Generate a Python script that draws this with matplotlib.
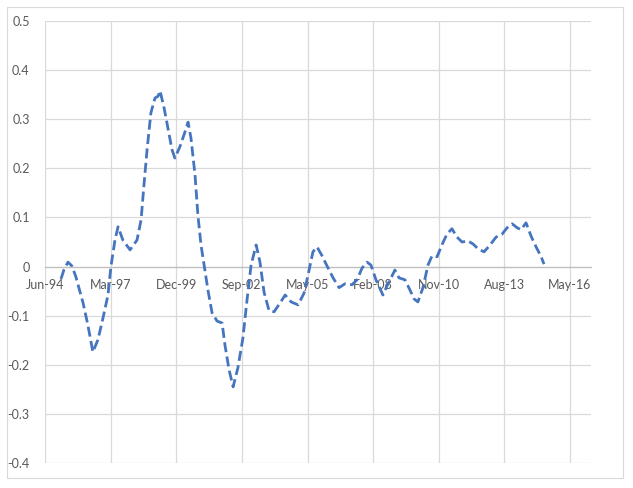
import pandas as pd
import numpy as np
import matplotlib
matplotlib.use("Agg")
import matplotlib.pyplot as plt
import matplotlib.dates as mdates
from matplotlib.patches import Rectangle

# values (decimal year, value)
years = [1995.12, 1995.24, 1995.41, 1995.58, 1995.74, 1996.04, 1996.24, 1996.45, 1996.66, 1996.87,
         1997.08, 1997.20, 1997.37, 1997.50, 1997.70, 1998.00, 1998.29, 1998.46, 1998.58, 1998.71,
         1998.87, 1999.04, 1999.17, 1999.25, 1999.42, 1999.58, 1999.75, 1999.87, 2000.08, 2000.29,
         2000.42, 2000.54, 2000.71, 2000.83, 2000.96, 2001.09, 2001.25, 2001.42, 2001.63, 2001.84,
         2001.96, 2002.13, 2002.30, 2002.50, 2002.71, 2002.88, 2003.05, 2003.26, 2003.42, 2003.59,
         2003.80, 2004.01, 2004.26, 2004.47, 2004.72, 2005.01, 2005.26, 2005.47, 2005.63, 2005.80,
         2006.01, 2006.22, 2006.47, 2006.72, 2006.97, 2007.26, 2007.47, 2007.68, 2007.89, 2008.05,
         2008.26, 2008.55, 2008.76, 2008.93, 2009.05, 2009.22, 2009.47, 2009.68, 2009.85, 2010.01,
         2010.22, 2010.43, 2010.60, 2010.81, 2011.01, 2011.22, 2011.43, 2011.64, 2011.85, 2012.10,
         2012.31, 2012.52, 2012.77, 2013.02, 2013.27, 2013.52, 2013.73, 2013.94, 2014.15, 2014.31,
         2014.52, 2014.73, 2014.94, 2015.15, 2015.27]
values = [-0.025, -0.007, 0.009, 0.001, -0.021, -0.074, -0.119, -0.174, -0.149, -0.105,
          -0.058, -0.001, 0.054, 0.081, 0.054, 0.034, 0.054, 0.095, 0.166, 0.238,
          0.313, 0.343, 0.347, 0.358, 0.323, 0.282, 0.238, 0.221, 0.244, 0.274,
          0.294, 0.262, 0.187, 0.105, 0.044, 0.003, -0.048, -0.094, -0.111, -0.115,
          -0.160, -0.210, -0.245, -0.206, -0.145, -0.068, 0.003, 0.044, 0.009, -0.052,
          -0.090, -0.092, -0.074, -0.058, -0.072, -0.078, -0.054, -0.007, 0.030, 0.040,
          0.022, 0.001, -0.023, -0.043, -0.035, -0.037, -0.027, -0.003, 0.009, 0.003,
          -0.027, -0.058, -0.035, -0.019, -0.007, -0.023, -0.027, -0.048, -0.066, -0.072,
          -0.043, 0.003, 0.022, 0.020, 0.044, 0.066, 0.077, 0.060, 0.050, 0.052,
          0.046, 0.036, 0.030, 0.044, 0.060, 0.066, 0.079, 0.087, 0.079, 0.075,
          0.089, 0.062, 0.040, 0.020, 0.005]

start = pd.Timestamp("1994-06-15")
n_ticks = 9
y_ticks = [-0.4, -0.3, -0.2, -0.1, 0, 0.1, 0.2, 0.3, 0.4, 0.5]

base = pd.Timestamp("1994-01-01")
dates = [base + pd.Timedelta(days=(y - 1994) * 365.25) for y in years]

fig = plt.figure(figsize=(6.33, 4.88), dpi=100)
fig.patches.append(Rectangle((7 / 633, 10 / 488), 616 / 633, 471 / 488, transform=fig.transFigure,
                             fill=False, edgecolor="#d9d9d9", linewidth=0.8))
ax = fig.add_axes([45 / 633, 25 / 488, 546 / 633, 442 / 488])

ax.plot(dates, values, color="#4675BF", linewidth=2.0, dashes=(3.6, 1.6),
        solid_capstyle="round", dash_capstyle="butt", zorder=3)

ticks = [start + pd.Timedelta(days=1000 * k) for k in range(n_ticks)]
ax.set_xticks(ticks)
ax.xaxis.set_major_formatter(mdates.DateFormatter("%b-%y"))
ax.set_xlim(start, start + pd.Timedelta(days=8320))
ax.set_ylim(-0.4, 0.5)
ax.set_yticks(y_ticks)
ax.set_yticklabels(["-0.4", "-0.3", "-0.2", "-0.1", "0", "0.1", "0.2", "0.3", "0.4", "0.5"])

ax.grid(True, color="#d9d9d9", linewidth=0.9)
ax.set_axisbelow(True)
for s in ["top", "right", "left"]:
    ax.spines[s].set_visible(False)
ax.spines["bottom"].set_position(("data", 0))
ax.spines["bottom"].set_color("#bfbfbf")
ax.spines["bottom"].set_linewidth(0.9)
ax.tick_params(axis="both", length=0, colors="#595959", labelsize=9)
ax.tick_params(axis="y", pad=11)
ax.tick_params(axis="x", pad=9)
for lbl in ax.get_xticklabels() + ax.get_yticklabels():
    lbl.set_fontfamily("Lato")

fig.savefig("out.png", dpi=100)
